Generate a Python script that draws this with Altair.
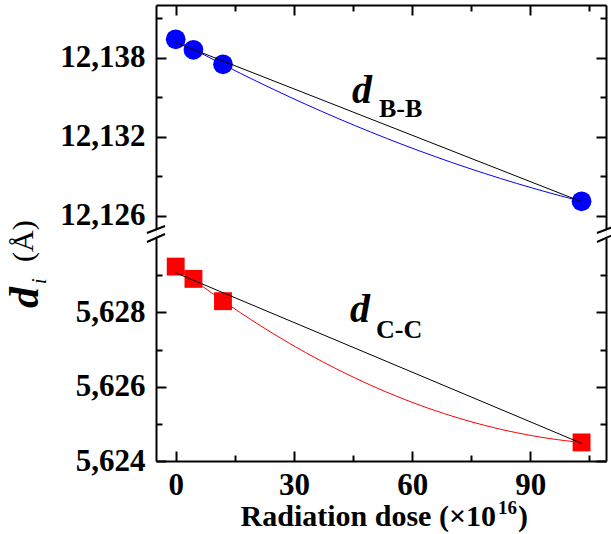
import altair as alt
import pandas as pd

# Lattice spacings versus radiation dose
dose = [0, 4.5, 12, 103]
d_bb = [12.1394, 12.1386, 12.1375, 12.1271]
d_cc = [5.62923, 5.6289, 5.6283, 5.6245]

# Tick positions
x_major = [0, 30, 60, 90]
x_ticks = [0, 15, 30, 45, 60, 75, 90, 105]
bb_major = [12.126, 12.132, 12.138]
bb_ticks = [12.126, 12.129, 12.132, 12.135, 12.138, 12.141]
cc_major = [5.624, 5.626, 5.628]
cc_ticks = [5.624, 5.625, 5.626, 5.627, 5.628, 5.629]

W = 450          # plot width
H = 456          # full plot height (both segments)
TOP_H = 224      # lower end of upper segment
BOT_Y0 = 233     # upper end of lower segment

FONT = "Liberation Serif"
LABEL_SIZE = 31

bb = pd.DataFrame({"dose": dose, "d": d_bb})
cc = pd.DataFrame({"dose": dose, "d": d_cc})

xscale = alt.Scale(domain=[-5, 109.2], nice=False, zero=False)
bb_scale = alt.Scale(domain=[12.125, 12.142], range=[TOP_H, 0], nice=False, zero=False)
cc_scale = alt.Scale(domain=[5.624, 5.630], range=[H, BOT_Y0], nice=False, zero=False)

comma_expr = "replace(format(datum.value, '.3f'), '.', ',')"


def label_axis_y(values):
    return alt.Axis(orient="left", values=values, ticks=False, labelPadding=11,
                    domain=True, domainWidth=2, domainColor="black",
                    labelFont=FONT, labelFontWeight="bold", labelFontSize=LABEL_SIZE,
                    labelColor="black", labelExpr=comma_expr, labelOverlap=False,
                    labelFlush=False, grid=False, title=None)


def tick_axis(orient, offset, values, major_test, domain):
    return alt.Axis(orient=orient, offset=offset, values=values, labels=False,
                    domain=domain, domainWidth=2, domainColor="black",
                    ticks=True, tickColor="black", tickWidth=2,
                    tickSize={"condition": {"test": major_test, "value": 10}, "value": 6},
                    grid=False, title=None)


bb_test = "round(datum.value * 1000) % 6 == 0"
cc_test = "round(datum.value * 1000) % 2 == 0"
x_test = "round(datum.value) % 30 == 0"

x_top_edge = tick_axis("bottom", -H, x_ticks, x_test, True)
x_bottom_inner = tick_axis("top", -H, x_ticks, x_test, False)
x_bottom_labels = alt.Axis(orient="bottom", values=x_major, ticks=False, labelPadding=9,
                           domain=True, domainWidth=2, domainColor="black",
                           labelFont=FONT, labelFontWeight="bold", labelFontSize=LABEL_SIZE,
                           labelColor="black", labelOverlap=False, labelFlush=False,
                           grid=False, title=None)

# Upper segment: B-B spacing
bb_points = alt.Chart(bb).mark_circle(size=390, color="#0000FF", opacity=1).encode(
    x=alt.X("dose:Q", scale=xscale, axis=x_top_edge),
    y=alt.Y("d:Q", scale=bb_scale, axis=label_axis_y(bb_major)),
)
bb_curve = alt.Chart(bb).transform_regression(
    "dose", "d", method="poly", order=2
).mark_line(color="#0000FF", strokeWidth=1).encode(
    x=alt.X("dose:Q", scale=xscale, axis=None),
    y=alt.Y("d:Q", scale=bb_scale, axis=tick_axis("right", -W, bb_ticks, bb_test, False)),
)
bb_fit = alt.Chart(bb).transform_regression(
    "dose", "d", method="linear"
).mark_line(color="black", strokeWidth=1).encode(
    x=alt.X("dose:Q", scale=xscale, axis=None),
    y=alt.Y("d:Q", scale=bb_scale, axis=tick_axis("left", -W, bb_ticks, bb_test, True)),
)

# Lower segment: C-C spacing
cc_points = alt.Chart(cc).mark_square(size=320, color="#FF0000", opacity=1).encode(
    x=alt.X("dose:Q", scale=xscale, axis=x_bottom_labels),
    y=alt.Y("d:Q", scale=cc_scale, axis=label_axis_y(cc_major)),
)
cc_curve = alt.Chart(cc).transform_regression(
    "dose", "d", method="poly", order=2
).mark_line(color="#FF0000", strokeWidth=1).encode(
    x=alt.X("dose:Q", scale=xscale, axis=x_bottom_inner),
    y=alt.Y("d:Q", scale=cc_scale, axis=tick_axis("right", -W, cc_ticks, cc_test, False)),
)
cc_fit = alt.Chart(cc).transform_regression(
    "dose", "d", method="linear"
).mark_line(color="black", strokeWidth=1).encode(
    x=alt.X("dose:Q", scale=xscale, axis=None),
    y=alt.Y("d:Q", scale=cc_scale, axis=tick_axis("left", -W, cc_ticks, cc_test, True)),
)

blank = alt.Data(values=[{}])


def text(s, x, y, size, weight="bold", style="normal", angle=0, align="left"):
    return alt.Chart(blank).mark_text(
        text=s, font=FONT, fontSize=size, fontWeight=weight, fontStyle=style,
        angle=angle, align=align, baseline="alphabetic", color="black"
    ).encode(x=alt.value(x), y=alt.value(y))


# Axis-break marks on both edges
def slash(x0, y0, x1, y1):
    return alt.Chart(blank).mark_rule(color="black", strokeWidth=2).encode(
        x=alt.value(x0), y=alt.value(y0), x2=alt.value(x1), y2=alt.value(y1)
    )


breaks = [
    slash(-9, 228, 9, 221), slash(-9, 237, 9, 229),
    slash(W - 9, 228, W + 9, 221), slash(W - 9, 237, W + 9, 229),
]

labels = [
    # series names
    text("d", 196, 98, 40, style="italic"),
    text("B-B", 223, 112, 26),
    text("d", 194, 317, 40, style="italic"),
    text("C-C", 220, 333, 26),
    # y title
    text("d", -118, 303, 42, style="italic", angle=270),
    text("i", -110, 279, 20, weight="normal", style="italic", angle=270),
    text("(Å)", -123, 257, 30, weight="normal", angle=270),
    # x title
    text("Radiation dose (×10", 340, 521, 30, align="right"),
    text("16", 342, 509, 19),
    text(")", 362, 521, 30),
]

chart = alt.layer(
    bb_points, cc_points, bb_curve, bb_fit, cc_curve, cc_fit, *breaks, *labels
).resolve_scale(
    y="independent"
).resolve_axis(
    x="independent", y="independent"
).properties(
    width=W, height=H,
    autosize=alt.AutoSizeParams(type="none"),
    padding={"left": 156, "top": 5, "right": 5, "bottom": 73},
).configure_view(
    strokeWidth=0
).configure(
    background="white"
)

chart.save("out.html", embed_options={"renderer": "svg", "actions": False})
